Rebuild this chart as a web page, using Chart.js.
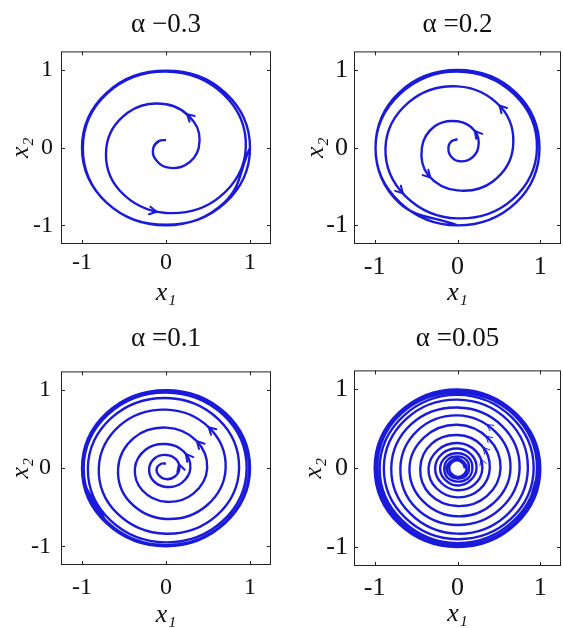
<!DOCTYPE html>
<html>
<head>
<meta charset="utf-8">
<title>Hopf limit cycle</title>
<script src="https://cdn.jsdelivr.net/npm/chart.js@4.4.0/dist/chart.umd.min.js"></script>
<style>
  body { margin: 0; background: #fff; }
  #wrap { position: relative; width: 563px; height: 628px; }
  canvas { position: absolute; }
</style>
</head>
<body>
<div id="wrap">
  <canvas id="c1" width="282" height="314" style="left:0;top:0"></canvas>
  <canvas id="c2" width="281" height="314" style="left:282px;top:0"></canvas>
  <canvas id="c3" width="282" height="314" style="left:0;top:314px"></canvas>
  <canvas id="c4" width="281" height="314" style="left:282px;top:314px"></canvas>
</div>
<script>
// trajectory radius, one value every 45 degrees, counter-clockwise
const stepDeg = 45;
const tickVals = [-1, 0, 1];
const titles = ['α −0.3', 'α =0.2', 'α =0.1', 'α =0.05'];

const start03 = 90;
const r03 = [0.10, 0.12, 0.15, 0.19, 0.25, 0.32, 0.39, 0.47, 0.56, 0.64, 0.71, 0.78, 0.84, 0.90, 0.95, 0.97,
  0.98, 0.99, 0.99, 1.00, 0.99, 1.00, 1.00, 1.00, 0.99, 1.00, 1.00, 1.00, 1.00, 0.99, 1.00];
const arrows03 = [7.3, 11.83];

const start02 = 90;
const r02 = [0.11, 0.11, 0.11, 0.13, 0.17, 0.21, 0.25, 0.30, 0.34, 0.39, 0.43, 0.50, 0.55, 0.61, 0.67, 0.74,
  0.79, 0.83, 0.87, 0.885, 0.91, 0.94, 0.96, 0.97, 0.98, 0.98, 0.99, 0.99, 1.00, 1.00, 0.99, 1.00,
  1.00, 1.00, 0.99, 1.00, 1.00];
const arrows02 = [7.02, 11.09, 15.04, 18.93];

const start01 = 90;
const r01 = [0.06, 0.08, 0.11, 0.125, 0.14, 0.15, 0.16, 0.165, 0.17, 0.185, 0.20, 0.22, 0.24, 0.265, 0.29, 0.30,
  0.31, 0.34, 0.37, 0.40, 0.43, 0.46, 0.49, 0.505, 0.52, 0.545, 0.57, 0.61, 0.65, 0.68, 0.71, 0.73,
  0.75, 0.775, 0.80, 0.82, 0.84, 0.855, 0.87, 0.885, 0.90, 0.915, 0.93, 0.94, 0.95, 0.955, 0.96, 0.965,
  0.97, 0.975, 0.98, 0.98, 0.985, 0.985, 0.99, 0.99, 0.99, 0.995, 1.00, 1.00, 1.00, 0.995, 1.00, 1.00,
  1.00, 1.00, 1.00, 1.00];
const arrows01 = [6.4, 14.84, 22.96, 31.02];

const start005 = 0;
const r005 = [0.09, 0.09, 0.10, 0.10, 0.10, 0.10, 0.11, 0.11,
  0.11, 0.11, 0.12, 0.12, 0.13, 0.13, 0.13, 0.14,
  0.14, 0.15, 0.15, 0.16, 0.16, 0.17, 0.17, 0.18,
  0.18, 0.19, 0.19, 0.20, 0.21, 0.21, 0.22, 0.22,
  0.23, 0.24, 0.25, 0.26, 0.27, 0.27, 0.28, 0.29,
  0.30, 0.31, 0.32, 0.33, 0.35, 0.36, 0.37, 0.38,
  0.39, 0.41, 0.42, 0.44, 0.45, 0.47, 0.48, 0.50,
  0.52, 0.53, 0.55, 0.56, 0.58, 0.59, 0.61, 0.62,
  0.64, 0.65, 0.67, 0.68, 0.69, 0.71, 0.72, 0.73,
  0.75, 0.76, 0.77, 0.79, 0.80, 0.81, 0.83, 0.84,
  0.85, 0.86, 0.87, 0.88, 0.89, 0.89, 0.90, 0.91,
  0.92, 0.92, 0.93, 0.93, 0.94, 0.94, 0.95, 0.95,
  0.96, 0.96, 0.96, 0.97, 0.97, 0.97, 0.98, 0.98,
  0.98, 0.98, 0.99, 0.99, 0.99, 0.99, 0.99, 0.99,
  0.99, 0.99, 1.00, 1.00, 1.00, 1.00, 1.00, 1.00,
  1.00, 0.99, 1.00, 1.00, 1.00, 0.99, 1.00, 1.00, 1.00];
const arrows005 = [40.5, 48.9, 57.1, 65.26];

const lineBlue = '#1a1ada';
const serif = "'Liberation Serif', 'Times New Roman', serif";

// draws the axes box and the small inward tick marks on all four sides
const frame = {
  id: 'frame',
  afterDraw(chart) {
    const { ctx, chartArea: a, scales } = chart;
    ctx.save();
    ctx.strokeStyle = '#222';
    ctx.lineWidth = 1;
    ctx.strokeRect(a.left + 0.5, a.top + 0.5, a.right - a.left - 1, a.bottom - a.top - 1);
    ctx.beginPath();
    tickVals.forEach(v => {
      const px = Math.round(scales.x.getPixelForValue(v)) + 0.5;
      ctx.moveTo(px, a.bottom); ctx.lineTo(px, a.bottom - 4);
      ctx.moveTo(px, a.top); ctx.lineTo(px, a.top + 4);
      const py = Math.round(scales.y.getPixelForValue(v)) + 0.5;
      ctx.moveTo(a.left, py); ctx.lineTo(a.left + 4, py);
      ctx.moveTo(a.right, py); ctx.lineTo(a.right - 4, py);
    });
    ctx.stroke();
    ctx.restore();
  }
};

// direction arrows placed on the drawn curve (segment index + fraction)
const arrowHeads = {
  id: 'arrowHeads',
  afterDatasetsDraw(chart, args, opts) {
    const pts = chart.getDatasetMeta(0).data;
    const ctx = chart.ctx;
    ctx.save();
    ctx.strokeStyle = lineBlue;
    ctx.lineWidth = opts.width;
    ctx.lineCap = 'round';
    ctx.lineJoin = 'round';
    (opts.at || []).forEach(f => {
      const i = Math.floor(f), t = f - i;
      const p0 = pts[i], p3 = pts[i + 1];
      if (!p0 || !p3) return;
      const c1x = p0.cp2x ?? p0.x, c1y = p0.cp2y ?? p0.y;
      const c2x = p3.cp1x ?? p3.x, c2y = p3.cp1y ?? p3.y;
      const m = 1 - t;
      const x = m * m * m * p0.x + 3 * m * m * t * c1x + 3 * m * t * t * c2x + t * t * t * p3.x;
      const y = m * m * m * p0.y + 3 * m * m * t * c1y + 3 * m * t * t * c2y + t * t * t * p3.y;
      const dx = 3 * m * m * (c1x - p0.x) + 6 * m * t * (c2x - c1x) + 3 * t * t * (p3.x - c2x);
      const dy = 3 * m * m * (c1y - p0.y) + 6 * m * t * (c2y - c1y) + 3 * t * t * (p3.y - c2y);
      const ang = Math.atan2(dy, dx);
      const len = opts.len, spread = 0.5;
      ctx.beginPath();
      ctx.moveTo(x - len * Math.cos(ang - spread), y - len * Math.sin(ang - spread));
      ctx.lineTo(x, y);
      ctx.lineTo(x - len * Math.cos(ang + spread), y - len * Math.sin(ang + spread));
      ctx.stroke();
    });
    ctx.restore();
  }
};

const panels = [
  { id: 'c1', title: titles[0], r: r03, start: start03, arrows: arrows03,
    w: 282, h: 314, L: 61, R: 271, T: 51, B: 244, tick: 24, yTitlePad: 6, xTitlePad: 5, xTickPad: 4, yTickPad: 8, aLen: 8, aW: 2 },
  { id: 'c2', title: titles[1], r: r02, start: start02, arrows: arrows02,
    w: 281, h: 314, L: 72, R: 279, T: 51, B: 244, tick: 26, yTitlePad: 19, xTitlePad: 5, xTickPad: 8, yTickPad: 6, aLen: 8, aW: 2 },
  { id: 'c3', title: titles[2], r: r01, start: start01, arrows: arrows01,
    w: 282, h: 314, L: 61, R: 271, T: 57, B: 251, tick: 24, yTitlePad: 6, xTitlePad: -3, xTickPad: 8, yTickPad: 10, aLen: 8, aW: 2 },
  { id: 'c4', title: titles[3], r: r005, start: start005, arrows: arrows005,
    w: 281, h: 314, L: 72, R: 279, T: 56, B: 252, tick: 26, yTitlePad: 17, xTitlePad: -2, xTickPad: 7, yTickPad: 6, aLen: 7, aW: 1 }
];

function makeChart(p) {
  const pts = p.r.map((v, i) => {
    const a = (p.start + i * stepDeg) * Math.PI / 180;
    return { x: v * Math.cos(a), y: v * Math.sin(a) };
  });
  const tickFont = { family: serif, size: p.tick };
  const labelFont = { family: serif, size: 26, style: 'italic' };
  return new Chart(document.getElementById(p.id), {
    type: 'scatter',
    data: {
      datasets: [{
        data: pts,
        showLine: true,
        borderColor: lineBlue,
        borderWidth: 2.4,
        pointRadius: 0,
        tension: 0.4,
        fill: false
      }]
    },
    options: {
      responsive: false,
      animation: false,
      events: [],
      layout: { padding: { left: 0, right: p.w - p.R, top: 0, bottom: 0 } },
      plugins: {
        legend: { display: false },
        tooltip: { enabled: false },
        title: {
          display: true,
          text: p.title,
          fullSize: false,
          color: '#111',
          font: { family: serif, size: 27, weight: 'normal' },
          padding: { top: 9, bottom: p.T - 41 }
        },
        arrowHeads: { at: p.arrows, len: p.aLen, width: p.aW }
      },
      scales: {
        x: {
          type: 'linear', min: -1.25, max: 1.25,
          grid: { display: false, drawTicks: false },
          border: { display: false },
          afterBuildTicks: s => { s.ticks = tickVals.map(v => ({ value: v })); },
          afterFit: s => { s.height = p.h - p.B; },
          ticks: { padding: p.xTickPad, color: '#111', font: tickFont, maxRotation: 0, callback: v => String(v) },
          title: { display: true, text: 'x₁', color: '#111', font: labelFont, padding: { top: 0, bottom: p.xTitlePad } }
        },
        y: {
          type: 'linear', min: -1.24, max: 1.24,
          grid: { display: false, drawTicks: false },
          border: { display: false },
          afterBuildTicks: s => { s.ticks = tickVals.map(v => ({ value: v })); },
          afterFit: s => { s.width = p.L; },
          ticks: { padding: p.yTickPad, color: '#111', font: tickFont, callback: v => String(v) },
          title: { display: true, text: 'x₂', color: '#111', font: labelFont, padding: { top: p.yTitlePad, bottom: 0 } }
        }
      }
    },
    plugins: [frame, arrowHeads]
  });
}

panels.forEach(makeChart);
</script>
</body>
</html>
